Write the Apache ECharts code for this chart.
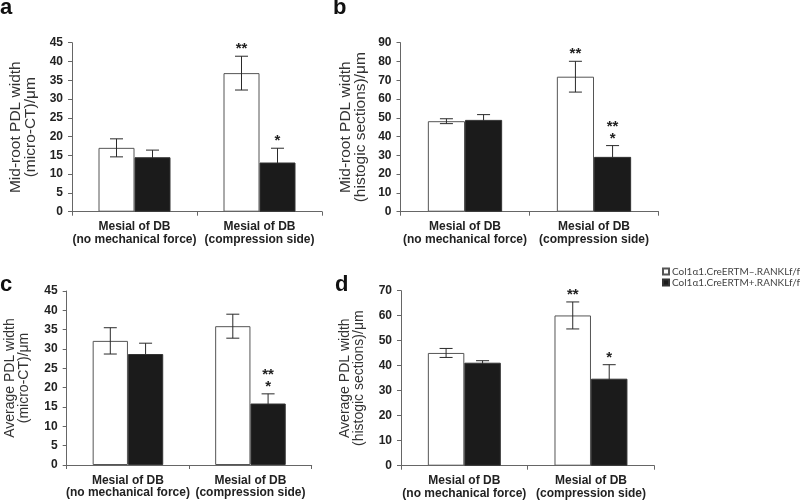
<!DOCTYPE html>
<html>
<head>
<meta charset="utf-8">
<script src="https://cdn.jsdelivr.net/npm/echarts@6/dist/echarts.min.js"></script>
<style>html,body{margin:0;padding:0;background:#fff;}#c{width:800px;height:500px;}</style>
</head>
<body>
<div id="c"></div>
<script>
// ---- data ----
const categories = ['Mesial of DB\n(no mechanical force)', 'Mesial of DB\n(compression side)'];
const seriesNames = ['Col1\u03b11.CreERTM\u2013.RANKLf/f', 'Col1\u03b11.CreERTM+.RANKLf/f'];

const aNeg = [17.0, 36.9], aNegErr = [2.4, 4.5];
const aPos = [14.5, 13.1], aPosErr = [1.9, 3.8];
const aNegStars = ['', '**'], aPosStars = ['', '*'];

const bNeg = [48.2, 71.9], bNegErr = [1.3, 8.2];
const bPos = [48.9, 29.2], bPosErr = [2.8, 6.0];
const bNegStars = ['', '**'], bPosStars = ['', '**\n*'];

const cNeg = [32.1, 35.9], cNegErr = [3.4, 3.1];
const cPos = [28.7, 15.9], cPosErr = [2.8, 2.5];
const cNegStars = ['', ''], cPosStars = ['', '**\n*'];

const dNeg = [45.1, 60.1], dNegErr = [1.8, 5.4];
const dPos = [41.2, 34.8], dPosErr = [0.8, 5.6];
const dNegStars = ['', '**'], dPosStars = ['', '*'];

const yTitles = [
  'Mid-root PDL width\n(micro-CT)/\u03bcm',
  'Mid-root PDL width\n(histogic sections)/\u03bcm',
  'Average PDL width\n(micro-CT)/\u03bcm',
  'Average PDL width\n(histogic sections)/\u03bcm'
];
const yMax = [45, 90, 45, 70];
const yInterval = [5, 10, 5, 10];
const panelLetters = ['a', 'b', 'c', 'd'];

// ---- layout / style ----
const BAR_FRAC = 0.288;
const grids = [
  {left: 72, top: 42.7, width: 250, height: 169},
  {left: 400.5, top: 42.7, width: 258, height: 169},
  {left: 66.7, top: 291, width: 245, height: 174},
  {left: 401, top: 290.7, width: 253.3, height: 175}
];
const nameFont = [15.5, 15.5, 14, 14];
const nameLH = [15, 15, 14, 14];
const nameGaps = [34, 32, 36, 35];
const letterPos = [[0, 8], [333, 8], [0, 285], [335, 285]];

const panels = [
  [aNeg, aNegErr, aPos, aPosErr, aNegStars, aPosStars],
  [bNeg, bNegErr, bPos, bPosErr, bNegStars, bPosStars],
  [cNeg, cNegErr, cPos, cPosErr, cNegStars, cPosStars],
  [dNeg, dNegErr, dPos, dPosErr, dNegStars, dPosStars]
];

const FONT = '"Liberation Sans", Arial, sans-serif';
const option = {
  animation: false,
  backgroundColor: '#fff',
  grid: grids.map(g => Object.assign({containLabel: false, outerBoundsMode: 'none'}, g)),
  xAxis: grids.map((g, i) => ({
    type: 'category', gridIndex: i, data: categories,
    axisLine: {lineStyle: {color: '#666', width: 1}},
    axisTick: {show: true, length: 4, lineStyle: {color: '#666'}},
    axisLabel: {interval: 0, margin: 9, fontFamily: FONT, fontWeight: 'bold', fontSize: 12, lineHeight: 12.5, color: '#222'}
  })),
  yAxis: grids.map((g, i) => ({
    type: 'value', gridIndex: i, min: 0, max: yMax[i], interval: yInterval[i],
    name: yTitles[i], nameLocation: 'middle', nameRotate: 90, nameGap: nameGaps[i],
    nameMoveOverlap: false,
    nameTextStyle: {fontFamily: FONT, fontSize: nameFont[i], lineHeight: nameLH[i], color: '#333'},
    splitLine: {show: false},
    axisLine: {show: true, lineStyle: {color: '#666', width: 1}},
    axisTick: {show: true, length: 4, lineStyle: {color: '#666'}},
    axisLabel: {margin: 9, fontFamily: FONT, fontWeight: 'bold', fontSize: 12, color: '#222'}
  })),
  legend: {
    data: seriesNames, orient: 'vertical', left: 657, top: 261,
    itemWidth: 6, itemHeight: 6, itemGap: 0, icon: 'rect',
    textStyle: {fontFamily: 'Lato, "Open Sans", sans-serif', fontSize: 10, color: '#444', lineHeight: 11, padding: [0, 0, 0, -2]}
  },
  graphic: panelLetters.map((l, i) => ({
    type: 'text', x: letterPos[i][0], y: letterPos[i][1],
    style: {text: l, font: 'bold 22px ' + FONT, fill: '#111', verticalAlign: 'middle', align: 'left'}
  })),
  series: []
};

function errSeries(i, vals, errs, starList, side) {
  return {
    type: 'custom', xAxisIndex: i, yAxisIndex: i, z: side ? 1 : 5, silent: true,
    data: categories.map((c, k) => [k, vals[k], errs[k]]),
    encode: {x: 0, y: 1},
    renderItem: function (params, api) {
      const cat = api.value(0), mean = api.value(1), err = api.value(2);
      const band = api.size([1, 0])[0];
      const bw = band * BAR_FRAC;
      const cx = api.coord([cat, 0])[0] + (side ? 1 : -1) * bw / 2;
      const yTop = api.coord([cat, mean + err])[1];
      const yBot = api.coord([cat, mean - err])[1];
      const cap = 6.5;
      const ls = {stroke: '#2a2a2a', lineWidth: 1};
      const children = [
        {type: 'line', shape: {x1: cx, y1: yTop, x2: cx, y2: yBot}, style: ls},
        {type: 'line', shape: {x1: cx - cap, y1: yTop, x2: cx + cap, y2: yTop}, style: ls},
        {type: 'line', shape: {x1: cx - cap, y1: yBot, x2: cx + cap, y2: yBot}, style: ls}
      ];
      const s = starList[params.dataIndex];
      if (s) {
        children.push({type: 'text', x: cx, y: yTop - 1, z2: 10,
          style: {text: s, align: 'center', verticalAlign: 'bottom', font: 'bold 15px ' + FONT, fill: '#222', lineHeight: 12}});
      }
      return {type: 'group', children: children};
    }
  };
}

panels.forEach((p, i) => {
  const [neg, negErr, pos, posErr, negStars, posStars] = p;
  option.series.push({
    name: seriesNames[0], type: 'bar', xAxisIndex: i, yAxisIndex: i,
    data: neg, barWidth: (BAR_FRAC * 100) + '%', barGap: '0%',
    itemStyle: {color: '#fff', borderColor: '#555', borderWidth: 1}, z: 2
  });
  option.series.push({
    name: seriesNames[1], type: 'bar', xAxisIndex: i, yAxisIndex: i,
    data: pos, barWidth: (BAR_FRAC * 100) + '%', barGap: '0%',
    itemStyle: {color: '#1b1b1b', borderColor: '#333', borderWidth: 1}, z: 2
  });
  option.series.push(errSeries(i, neg, negErr, negStars, 0));
  option.series.push(errSeries(i, pos, posErr, posStars, 1));
});

const chart = echarts.init(document.getElementById('c'), null, {renderer: 'canvas'});
chart.setOption(option);
</script>
</body>
</html>
